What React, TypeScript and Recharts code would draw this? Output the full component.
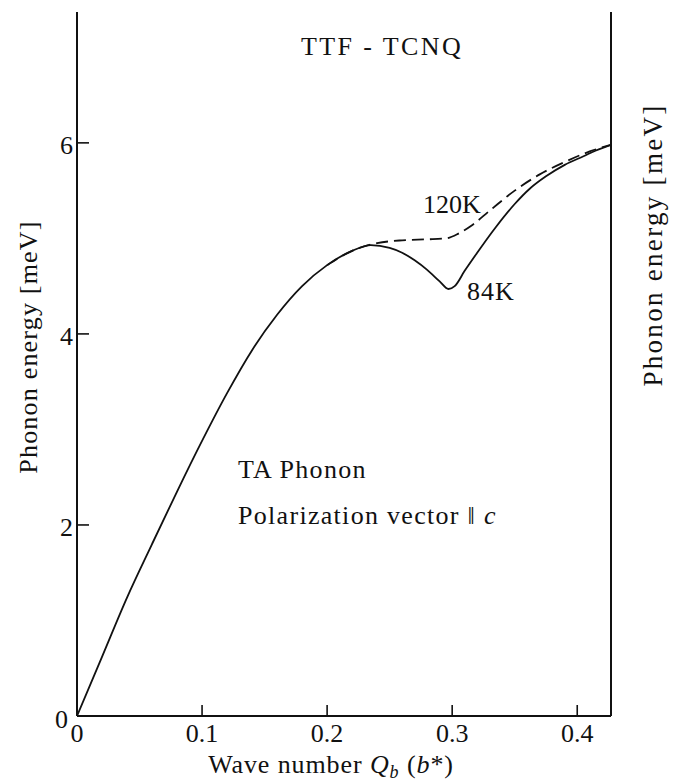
import React from 'react';
import { LineChart, Line, XAxis, YAxis } from 'recharts';

// TA phonon dispersion of TTF-TCNQ, polarization || c
const q84 = [0, 0.02, 0.04, 0.06, 0.08, 0.10, 0.12, 0.14, 0.16, 0.18, 0.20, 0.22, 0.235, 0.25, 0.26, 0.27, 0.28, 0.29, 0.297, 0.302, 0.31, 0.32, 0.335, 0.35, 0.362, 0.375, 0.39, 0.405, 0.415, 0.427];
const e84 = [0, 0.62, 1.24, 1.80, 2.35, 2.88, 3.38, 3.83, 4.20, 4.50, 4.72, 4.87, 4.93, 4.90, 4.85, 4.77, 4.67, 4.55, 4.47, 4.50, 4.66, 4.85, 5.12, 5.36, 5.52, 5.65, 5.77, 5.86, 5.92, 5.98];
const q120 = [0.20, 0.22, 0.24, 0.26, 0.28, 0.295, 0.305, 0.315, 0.33, 0.35, 0.37, 0.39, 0.41, 0.427];
const e120 = [4.72, 4.87, 4.95, 4.98, 4.99, 5.00, 5.05, 5.13, 5.29, 5.50, 5.67, 5.80, 5.91, 5.98];

const xTicks = [0, 0.1, 0.2, 0.3, 0.4];
const yTicks = [0, 2, 4, 6];
const xDomain = [0, 0.427];
const yDomain = [0, 7.37];

const data84 = q84.map((q, i) => ({ q, e: e84[i] }));
const data120 = q120.map((q, i) => ({ q, e: e120[i] }));

const FONT = '"Liberation Serif", "DejaVu Serif", serif';
const INK = '#111';

const XTick = (props: any) => {
  const { x, y, payload } = props;
  return (
    <g>
      {payload.value !== 0 && <line x1={x} y1={y} x2={x} y2={y - 11} stroke={INK} strokeWidth={1.6} />}
      <text x={x} y={y + 26} textAnchor="middle" fontFamily={FONT} fontSize={26} fill={INK}>
        {payload.value === 0 ? '0' : payload.value.toFixed(1)}
      </text>
    </g>
  );
};

const YTick = (props: any) => {
  const { x, y, payload } = props;
  const isZero = payload.value === 0;
  return (
    <g>
      {!isZero && <line x1={x} y1={y} x2={x + 12} y2={y} stroke={INK} strokeWidth={1.6} />}
      <text x={x - (isZero ? 9 : 4)} y={y + (isZero ? 12 : 11)} textAnchor="end" fontFamily={FONT} fontSize={26} fill={INK}>
        {String(payload.value)}
      </text>
    </g>
  );
};

export default function App() {
  return (
    <div style={{ position: 'absolute', left: 0, top: 0, width: 673, height: 782, background: '#fff' }}>
      <LineChart width={673} height={782} margin={{ top: 12, right: 0, bottom: 0, left: 0 }}>
        <XAxis
          dataKey="q"
          type="number"
          domain={xDomain}
          ticks={xTicks}
          allowDataOverflow
          height={66}
          tickSize={0}
          tickMargin={0}
          tickLine={false}
          tick={<XTick />}
          axisLine={{ stroke: INK, strokeWidth: 2 }}
        />
        <XAxis
          xAxisId="top"
          orientation="top"
          type="number"
          domain={xDomain}
          height={0}
          tick={false}
          tickLine={false}
          axisLine={{ stroke: INK, strokeWidth: 2 }}
        />
        <YAxis
          type="number"
          domain={yDomain}
          ticks={yTicks}
          allowDataOverflow
          width={77}
          tickSize={0}
          tickMargin={0}
          tickLine={false}
          tick={<YTick />}
          axisLine={{ stroke: INK, strokeWidth: 2 }}
        />
        <YAxis
          yAxisId="right"
          orientation="right"
          type="number"
          domain={yDomain}
          width={62}
          tick={false}
          tickLine={false}
          axisLine={{ stroke: INK, strokeWidth: 2 }}
        />
        <Line
          data={data120}
          dataKey="e"
          type="monotone"
          stroke={INK}
          strokeWidth={1.8}
          strokeDasharray="12 6"
          dot={false}
          isAnimationActive={false}
        />
        <Line
          data={data84}
          dataKey="e"
          type="monotone"
          stroke={INK}
          strokeWidth={1.8}
          dot={false}
          isAnimationActive={false}
        />
      </LineChart>
      <svg
        width={673}
        height={782}
        style={{ position: 'absolute', left: 0, top: 0, pointerEvents: 'none' }}
        fontFamily={FONT}
        fill={INK}
      >
        <text x={382} y={55} textAnchor="middle" fontSize={26} letterSpacing={2.4}>TTF - TCNQ</text>
        <text x={423} y={213} fontSize={26}>120K</text>
        <text x={467} y={300} fontSize={26} letterSpacing={1}>84K</text>
        <text x={238} y={478} fontSize={26} letterSpacing={1.3}>TA Phonon</text>
        <text x={238} y={524} fontSize={26} letterSpacing={1.3}>
          Polarization vector ‖ <tspan fontStyle="italic">c</tspan>
        </text>
        <text x={331} y={773} textAnchor="middle" fontSize={26} letterSpacing={0.9}>
          Wave number <tspan fontStyle="italic">Q</tspan>
          <tspan fontStyle="italic" fontSize={18} dy={5}>b</tspan>
          <tspan dy={-5}> (</tspan>
          <tspan fontStyle="italic">b</tspan>
          <tspan>*)</tspan>
        </text>
        <text x={37} y={347} textAnchor="middle" fontSize={26} letterSpacing={1.2} transform="rotate(-90 37 347)">
          Phonon energy [meV]
        </text>
        <text x={662} y={245} textAnchor="middle" fontSize={27} letterSpacing={2.3} transform="rotate(-90 662 245)">
          Phonon energy [meV]
        </text>
      </svg>
    </div>
  );
}
